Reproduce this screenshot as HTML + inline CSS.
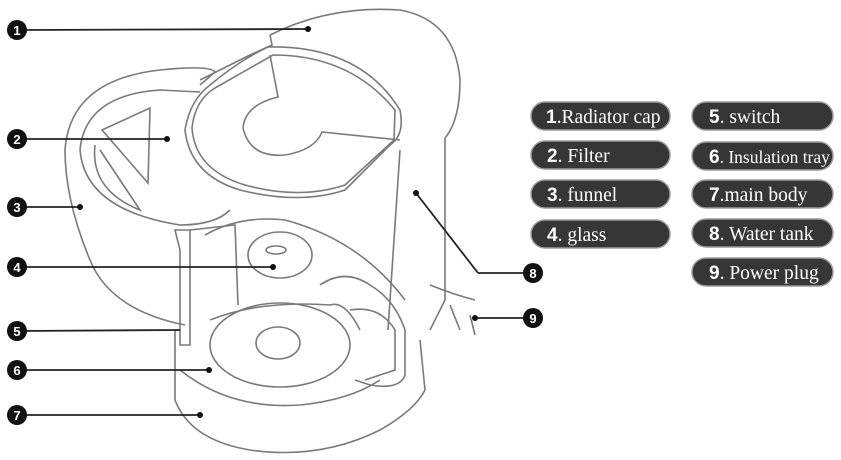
<!DOCTYPE html>
<html><head><meta charset="utf-8"><style>
html,body{margin:0;padding:0;background:#fff;width:841px;height:460px;overflow:hidden}
svg{display:block}
.p{fill:#363636;stroke:#9a9a9a;stroke-width:1.5}
.t{fill:#fff;font-family:"Liberation Serif",serif;font-size:19.5px}
.n{font-family:"Liberation Sans",sans-serif;font-weight:bold;font-size:19px}
.d{fill:none;stroke:#7a7a7a;stroke-width:1.6}
.c{fill:#111}
.ct{fill:#fff;font-family:"Liberation Sans",sans-serif;font-weight:bold;font-size:13px;text-anchor:middle}
.l{stroke:#222;stroke-width:1.8}
</style></head><body>
<svg width="841" height="460" viewBox="0 0 841 460">
<g class="d">
<path d="M270 35 Q330 5 400 10 Q455 20 460 80 Q460 120 445 138"/>
<path d="M270 35 L272 45 L250 55 L200 80"/>
<path d="M445 138 L445 300 L430 330"/>
<path d="M400 150 L388 330"/>
<path d="M268 47 Q360 45 400 110 Q405 135 390 145 Q370 165 345 190 Q300 205 240 190 Q190 175 185 130 Q190 100 210 85 Q240 60 268 47 Z"/>
<path d="M273 55 Q350 55 395 110 L394 140 L345 185 Q300 200 245 185 Q195 170 192 128 Q195 100 215 88 Z"/>
<path d="M270 55 L278 97 Q245 105 243 128 Q250 158 285 155 Q315 150 322 132 L400 140"/>
<path d="M65 150 Q70 80 160 70 Q210 65 215 72 L200 85"/>
<path d="M80 150 Q85 95 160 90 L200 92"/>
<path d="M65 150 Q65 200 90 260 Q110 310 185 325"/>
<path d="M80 150 Q85 210 180 225 Q215 225 230 210"/>
<path d="M102 130 L150 108 L148 183 Z"/>
<path d="M95 145 Q90 190 140 210 L100 150"/>
<path d="M175 230 L190 230 L190 345 L180 345 L180 250 Z"/>
<path d="M190 230 L235 225 L238 305"/>
<path d="M205 235 Q240 215 285 220 Q360 240 405 300"/>
<ellipse cx="280" cy="255" rx="32" ry="23"/>
<ellipse cx="276" cy="250" rx="10" ry="4"/>
<path d="M210 320 Q260 300 330 305 Q345 300 360 330"/>
<ellipse cx="280" cy="345" rx="70" ry="42"/>
<ellipse cx="278" cy="343" rx="22" ry="16"/>
<path d="M320 285 Q345 268 370 285 Q395 300 405 330 L405 375 Q400 390 370 385 L355 380"/>
<path d="M350 310 Q380 305 395 330 L395 370 L365 380"/>
<path d="M175 330 L175 400 Q190 440 250 450 Q320 460 380 430 Q415 410 425 390 L420 340"/>
<path d="M180 370 Q230 410 300 405 Q350 400 380 380"/>
<path d="M430 285 Q455 295 475 300 M450 305 L460 330 M470 315 L475 335"/>
</g>
<g>
<line class="l" x1="17" y1="30" x2="308" y2="29"/><circle class="c" cx="308" cy="29" r="3"/>
<line class="l" x1="17" y1="139" x2="167" y2="139"/><circle class="c" cx="167" cy="139" r="3"/>
<line class="l" x1="17" y1="207" x2="80" y2="207"/><circle class="c" cx="80" cy="207" r="3"/>
<line class="l" x1="17" y1="267" x2="273" y2="267"/><circle class="c" cx="273" cy="267" r="3"/>
<line class="l" x1="17" y1="331" x2="180" y2="330"/>
<line class="l" x1="17" y1="370" x2="209" y2="370"/><circle class="c" cx="209" cy="370" r="3"/>
<line class="l" x1="17" y1="415" x2="200" y2="415"/><circle class="c" cx="200" cy="415" r="3"/>
<line class="l" x1="416" y1="193" x2="478" y2="273"/><line class="l" x1="478" y1="273" x2="533" y2="273"/><circle class="c" cx="416" cy="193" r="3"/>
<line class="l" x1="475" y1="318" x2="533" y2="318"/><circle class="c" cx="475" cy="318" r="3"/>
<circle class="c" cx="17" cy="30" r="10"/><text class="ct" x="17" y="35">1</text>
<circle class="c" cx="17" cy="139" r="10"/><text class="ct" x="17" y="144">2</text>
<circle class="c" cx="17" cy="207" r="10"/><text class="ct" x="17" y="212">3</text>
<circle class="c" cx="17" cy="267" r="10"/><text class="ct" x="17" y="272">4</text>
<circle class="c" cx="17" cy="331" r="10"/><text class="ct" x="17" y="336">5</text>
<circle class="c" cx="17" cy="370" r="10"/><text class="ct" x="17" y="375">6</text>
<circle class="c" cx="17" cy="415" r="10"/><text class="ct" x="17" y="420">7</text>
<circle class="c" cx="533" cy="273" r="10"/><text class="ct" x="533" y="278">8</text>
<circle class="c" cx="533" cy="318" r="10"/><text class="ct" x="533" y="323">9</text>
</g>
<rect class="p" x="531" y="102" width="139" height="28" rx="14"/><text class="t" x="546" y="123"><tspan class="n">1</tspan>.Radiator cap</text>
<rect class="p" x="531" y="141" width="139" height="28" rx="14"/><text class="t" x="547" y="162"><tspan class="n">2</tspan>. Filter</text>
<rect class="p" x="531" y="180" width="139" height="28" rx="14"/><text class="t" x="547" y="201"><tspan class="n">3</tspan>. funnel</text>
<rect class="p" x="531" y="220" width="139" height="28" rx="14"/><text class="t" x="547" y="241"><tspan class="n">4</tspan>. glass</text>
<rect class="p" x="692" y="102" width="141" height="28" rx="14"/><text class="t" x="709" y="123"><tspan class="n">5</tspan>. switch</text>
<rect class="p" x="692" y="142" width="141" height="28" rx="14"/><text class="t" x="709" y="163" style="font-size:17.5px"><tspan class="n">6</tspan>. Insulation tray</text>
<rect class="p" x="692" y="180" width="141" height="28" rx="14"/><text class="t" x="709" y="201"><tspan class="n">7</tspan>.main body</text>
<rect class="p" x="692" y="219" width="141" height="28" rx="14"/><text class="t" x="709" y="240"><tspan class="n">8</tspan>. Water tank</text>
<rect class="p" x="692" y="258" width="141" height="28" rx="14"/><text class="t" x="709" y="279"><tspan class="n">9</tspan>. Power plug</text>
</svg>
</body></html>
